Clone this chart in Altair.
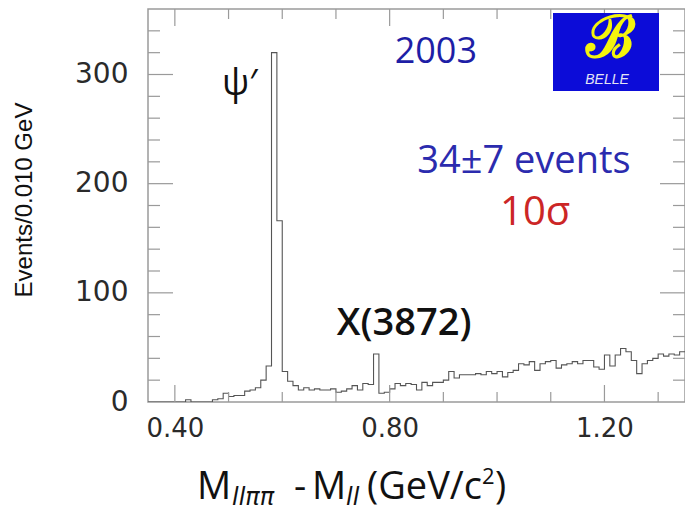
import altair as alt
import pandas as pd

# ---------------- data ----------------
BIN_START = 0.35          # GeV, left edge of first bin
BIN_WIDTH = 0.010         # GeV per bin (Events/0.010 GeV)
counts = [0, 0, 0, 0, 0, 0, 0, 2, 0, 0,
          0, 0, 2, 3, 8, 5, 6, 6, 10, 11,
          13, 20, 33, 320, 166, 28, 19, 15, 11, 13,
          11, 12, 11, 11, 12, 9, 10, 12, 15, 11,
          17, 16, 44, 8, 9, 12, 17, 15, 17, 16,
          11, 18, 15, 18, 18, 20, 28, 22, 25, 25,
          25, 26, 25, 28, 26, 28, 23, 27, 29, 35,
          34, 37, 29, 35, 37, 38, 31, 34, 35, 37,
          35, 38, 38, 32, 30, 43, 33, 43, 49, 46,
          38, 26, 35, 38, 40, 44, 42, 44, 43, 46]

x_labels = [0.40, 0.80, 1.20]
x_major_ticks = [0.40, 0.80, 1.20]
x_minor_ticks = [0.50, 0.60, 0.70, 0.90, 1.00, 1.10, 1.30]
y_labels = [0, 100, 200, 300]
y_major_ticks = [100, 200, 300]
y_minor_ticks = [20, 40, 60, 80, 120, 140, 160, 180, 220, 240, 260, 280, 320, 340]

ann_text = ["ψ′", "2003", "34±7 events", "10σ"]
ann_x = [0.521, 0.886, 1.050, 1.071]
ann_y = [291, 321, 220, 173]
ann_color = ["#111111", "#1e1ea6", "#2b2bae", "#cc2626"]
ann_size = [36, 36, 38, 40]

label_text = ["X(3872)"]
label_x = [0.827]
label_y = [71]

# ---------------- layout ----------------
W, H = 537, 393
FRAME = "#9a9a9a"
edges = [round(BIN_START + BIN_WIDTH * i, 3) for i in range(len(counts) + 1)]
hist = pd.DataFrame({"edge": edges, "n": counts + [counts[-1]]})

xs = alt.Scale(domain=[0.35, 1.35], nice=False, zero=False)
ys = alt.Scale(domain=[0, 360], nice=False, zero=True)

x_axis = alt.Axis(
    values=x_labels, format=".2f", ticks=False, domain=False, grid=False,
    labelFont="DejaVu Sans", labelFontSize=26, labelColor="#2a2a2a",
    labelPadding=13, labelFlush=False, title=None)
y_axis = alt.Axis(
    values=y_labels, ticks=False, domain=False, grid=False,
    labelFont="DejaVu Sans", labelFontSize=28, labelColor="#2a2a2a",
    labelPadding=20, labelFlush=False, title=None)


def X(field):
    return alt.X(field, scale=xs, axis=x_axis)


def Y(field):
    return alt.Y(field, scale=ys, axis=y_axis)


hist_line = alt.Chart(hist).mark_line(
    interpolate="step-after", color="#555555", strokeWidth=1.1, clip=True
).encode(x=X("edge:Q"), y=Y("n:Q"))


def xtick_layer(vals, length, top):
    df = pd.DataFrame({"t": vals})
    y0, y1 = (0, length) if top else (H, H - length)
    return alt.Chart(df).mark_rule(color=FRAME, strokeWidth=1.2).encode(
        x=X("t:Q"), y=alt.value(y0), y2=alt.value(y1))


def ytick_layer(vals, length, right):
    df = pd.DataFrame({"t": vals})
    x0, x1 = (W, W - length) if right else (0, length)
    return alt.Chart(df).mark_rule(color=FRAME, strokeWidth=1.2).encode(
        y=Y("t:Q"), x=alt.value(x0), x2=alt.value(x1))


ticks = [
    xtick_layer(x_major_ticks, 17, False), xtick_layer(x_minor_ticks, 10, False),
    xtick_layer(x_major_ticks, 17, True), xtick_layer(x_minor_ticks, 10, True),
    ytick_layer(y_major_ticks, 25, False), ytick_layer(y_minor_ticks, 12, False),
    ytick_layer(y_major_ticks, 25, True), ytick_layer(y_minor_ticks, 12, True),
]

ann_df = pd.DataFrame({"text": ann_text, "x": ann_x, "y": ann_y,
                       "c": ann_color, "s": ann_size})
ann = alt.Chart(ann_df).mark_text(
    font="Open Sans", align="center", baseline="middle"
).encode(
    x=X("x:Q"), y=Y("y:Q"), text="text:N",
    color=alt.Color("c:N", scale=None), size=alt.Size("s:Q", scale=None))

lab_df = pd.DataFrame({"text": label_text, "x": label_x, "y": label_y})
lab = alt.Chart(lab_df).mark_text(
    font="Open Sans", fontSize=38, fontWeight=600, align="center",
    baseline="middle", color="#111111"
).encode(x=X("x:Q"), y=Y("y:Q"), text="text:N")

one = pd.DataFrame({"a": [0]})

# Belle logo
logo_box = alt.Chart(one).mark_rect(color="#0c0cd8").encode(
    x=alt.value(405), x2=alt.value(511), y=alt.value(4), y2=alt.value(82))
logo_b = alt.Chart(one).mark_text(
    text="ℬ", font="DejaVu Serif", fontSize=58, color="#f4f40e",
    stroke="#f4f40e", strokeWidth=1.8, align="center", baseline="middle"
).encode(x=alt.value(462), y=alt.value(31))
logo_t = alt.Chart(one).mark_text(
    text="BELLE", font="Liberation Sans", fontSize=14, fontStyle="italic",
    color="#e4e4f4", align="center", baseline="middle"
).encode(x=alt.value(459), y=alt.value(71))

# y title
ytitle = alt.Chart(one).mark_text(
    text="Events/0.010 GeV", font="Liberation Sans",
    fontSize=24, angle=270, color="#111111", align="center", baseline="middle"
).encode(x=alt.value(-123), y=alt.value(191))

# x title pieces: (text, left x, baseline y, size)
xt_norm = pd.DataFrame({
    "t": ["M", "-", "M", "(GeV/c", ")"],
    "px": [49, 146, 164, 219, 347],
    "py": [490, 490, 490, 490, 490],
    "s": [38, 38, 38, 38, 38]})
xt_sup = pd.DataFrame({"t": ["2"], "px": [334], "py": [475], "s": [22]})
xt_ital = pd.DataFrame({
    "t": ["llππ", "ll"], "px": [84, 198], "py": [496, 496], "s": [24, 24]})


def piece(df, font="Open Sans", italic=False):
    kw = dict(font=font, align="left", baseline="alphabetic", color="#111111")
    if italic:
        kw["fontStyle"] = "italic"
    return alt.Chart(df).mark_text(**kw).encode(
        x=alt.X("px:Q", scale=None), y=alt.Y("py:Q", scale=None),
        text="t:N", size=alt.Size("s:Q", scale=None))


chart = alt.layer(
    hist_line, *ticks, ann, lab, logo_box, logo_b, logo_t, ytitle,
    piece(xt_norm), piece(xt_sup), piece(xt_ital, "DejaVu Sans", True)
).properties(
    width=W, height=H,
    padding={"left": 148, "top": 9, "right": 0, "bottom": 110},
    autosize=alt.AutoSizeParams(type="none"),
    background="white",
).configure_view(stroke=FRAME, strokeWidth=1.5)

chart.save("out.html", embed_options={"renderer": "svg", "actions": False})
